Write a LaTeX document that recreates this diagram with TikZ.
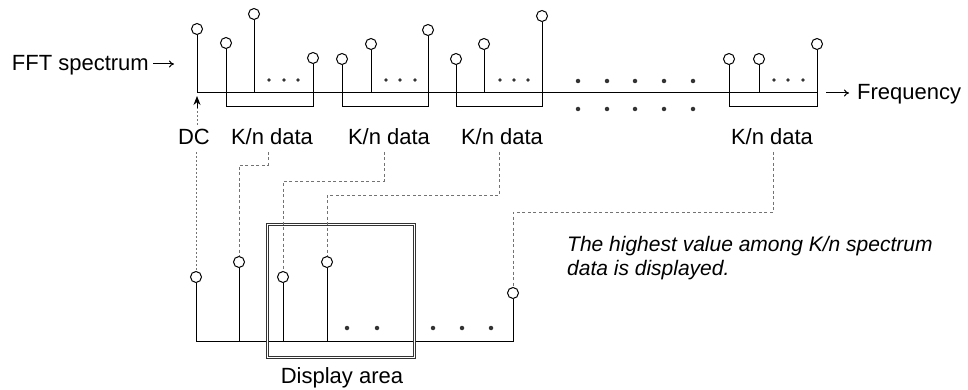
\documentclass[tikz,border=0pt]{standalone}
\usepackage{fontspec}
\setmainfont{Liberation Sans}
\usetikzlibrary{arrows.meta}
\begin{document}
\begin{tikzpicture}[x=1pt,y=-1pt,
  lbl/.style={font=\fontsize{22}{25}\selectfont, inner sep=0pt},
  pin/.style={circle, draw, fill=white, minimum size=11pt, inner sep=0pt, line width=1pt},
  stem/.style={line width=1pt},
  link/.style={draw=black!55, line width=0.8pt, dash pattern=on 3pt off 2.5pt},
  dcl/.style={draw=black!55, line width=0.8pt, dash pattern=on 2pt off 2pt},
  sdot/.style={circle, fill=black!80, minimum size=3.8pt, inner sep=0pt},
  bdot/.style={circle, fill=black!80, minimum size=4.5pt, inner sep=0pt},
  arr/.style={line width=1pt, -{To[length=5pt,width=7pt]}},
]
\useasboundingbox (0,0) rectangle (968,390);

% ---------- top axis ----------
\coordinate (a0) at (197,93);
\coordinate (aend) at (817,93);
\draw[stem] (a0) -- (aend);

% top stems
\foreach \n/\x/\y in {0/197/29, 1/226/43, 2/254/14, 3/313/58,
                      4/342/59, 5/371/44, 6/428/30,
                      7/456/59, 8/484/44, 9/542/16,
                      10/729/59, 11/759/59, 12/817/44} {
  \node[pin] (t\n) at (\x,\y) {};
  \draw[stem] (t\n.south) -- (t\n.south |- a0);
}

% brackets
\foreach \p/\q in {1/3, 4/6, 7/9, 10/12} {
  \draw[stem] (t\p |- a0) -- ++(0,14) -| (t\q |- a0);
}

% small dots in groups
\foreach \x in {269,284,298, 386,400,415, 500,514,528, 774,788,803}
  \node[sdot] at (\x,80) {};

% big dots between groups
\foreach \x in {578,607,635,664,693} {
  \node[bdot] at (\x,81) {};
  \node[bdot] at (\x,109) {};
}

% FFT spectrum label
\node[lbl, anchor=base east] (fft) at (149,71) {FFT spectrum};
\coordinate (fa0) at (153,64);
\coordinate (fa1) at (174,64);
\draw[arr] (fa0) -- (fa1);

% Frequency label
\node[lbl, anchor=base west] (freq) at (857,100) {Frequency};
\coordinate (qa0) at (826,93);
\draw[arr] (qa0) -- ([xshift=-8pt]freq.west |- qa0);

% DC and K/n data labels
\node[lbl, anchor=base] (dc) at (194,145) {DC};
\node[lbl, anchor=base] (k1) at (272,145) {K/n data};
\node[lbl, anchor=base] (k2) at (389,145) {K/n data};
\node[lbl, anchor=base] (k3) at (502,145) {K/n data};
\node[lbl, anchor=base] (k4) at (772,145) {K/n data};

\coordinate (dcTop) at (197,125);
\coordinate (dcMid) at (197,108);
\coordinate (dcTip) at (197,96);
\draw[dcl] (dcTop) -- (dcMid);
\draw[line width=0.9pt, -{Stealth[length=9pt,width=7pt]}] (dcMid) -- (dcTip);

% ---------- bottom ----------
\node[pin] (b1) at (196,277) {};
\node[pin] (b2) at (239,262) {};
\node[pin] (b3) at (283,277) {};
\node[pin] (b4) at (327,262) {};
\node[pin] (b5) at (513,293) {};
\coordinate (bl) at (196,341);

\draw[stem] (b1.south) -- (b1 |- bl) -- (b5 |- bl) -- (b5.south);
\foreach \n in {2,3,4}
  \draw[stem] (b\n.south) -- (b\n |- bl);

\foreach \x in {347,377,433,462,491}
  \node[bdot] at (\x,328) {};

% display area
\node[draw=black!80, double=white, double distance=0.9pt, line width=1pt,
      minimum width=147pt, minimum height=133pt, inner sep=0pt] (disp) at (341,291) {};
\node[lbl, anchor=base] (dlab) at (342,383) {Display area};

% connectors from labels to bottom pins
\coordinate (c0) at (196,152);
\coordinate (c1) at (268,152);
\coordinate (c2) at (384,152);
\coordinate (c3) at (499,152);
\coordinate (c4) at (773,152);
\draw[dcl] (c0) -- (b1.north);
\draw[link] (c1) -- (268,165) -| (b2.north);
\draw[link] (c2) -- (384,181) -| (b3.north);
\draw[link] (c3) -- (499,195) -| (b4.north);
\draw[link] (c4) -- (773,212) -| (b5.north);

% description
\node[lbl, anchor=base west, align=left, font=\fontsize{21}{24}\selectfont\itshape] (desc) at (567,275)
  {The highest value among K/n spectrum\\data is displayed.};
\end{tikzpicture}
\end{document}
